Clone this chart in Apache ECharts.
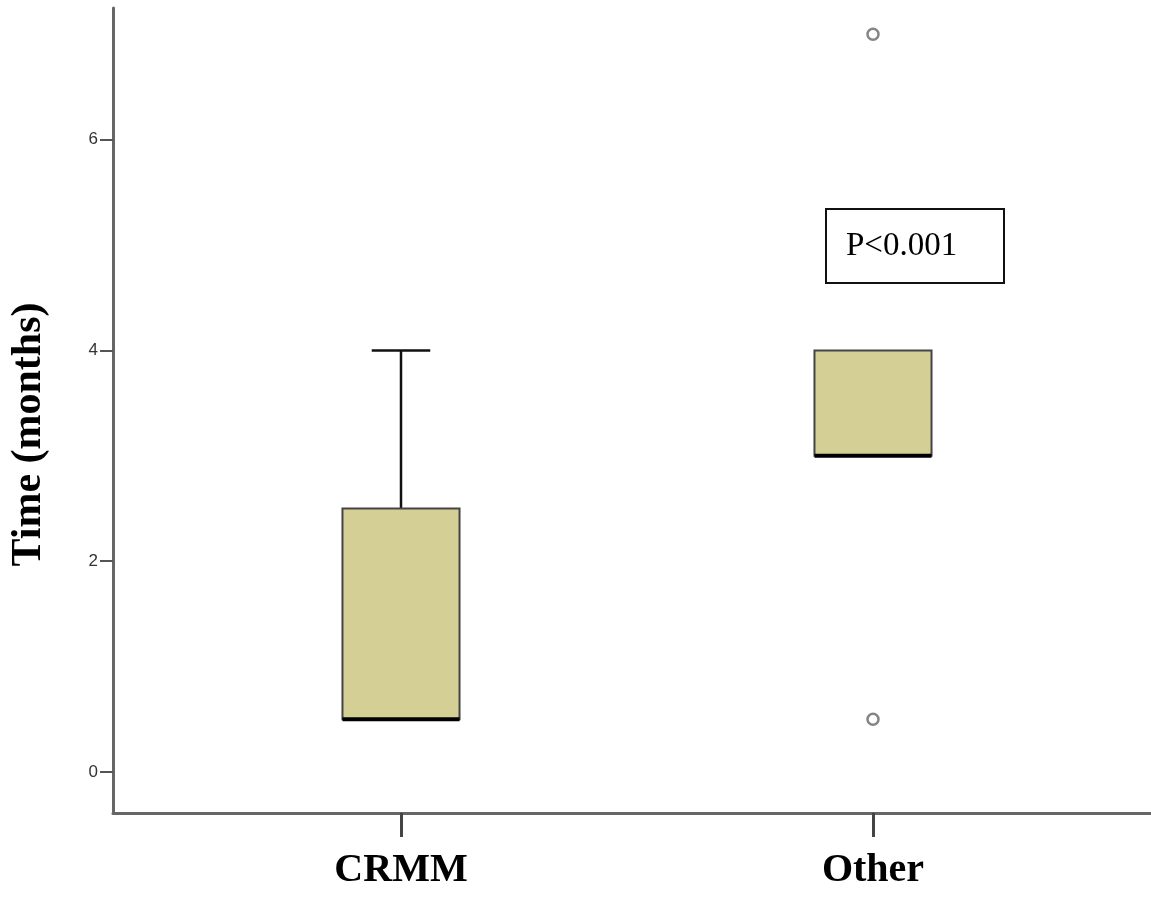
<!DOCTYPE html>
<html>
<head>
<meta charset="utf-8">
<script src="https://cdn.jsdelivr.net/npm/echarts@6/dist/echarts.min.js"></script>
<style>html,body{margin:0;padding:0;background:#fff;}#chart{width:1151px;height:921px;}</style>
</head>
<body>
<div id="chart"></div>
<script>
// ---- data ----
const categories = ['CRMM', 'Other'];
// [min, Q1, median, Q3, max] (whisker ends)
const boxStats = [
  [0.5, 0.5, 0.5, 2.5, 4],
  [3, 3, 3, 4, 4]
];
// outliers: [category index, value]
const outliers = [[1, 7], [1, 0.5]];
const yTickValues = [0, 2, 4, 6];
const pLabel = 'P<0.001';

const yMin = -0.39, yMax = 7.25;
const boxFill = '#d4cf94';

const chart = echarts.init(document.getElementById('chart'));
const boxData = boxStats.map((s, i) => [i].concat(s));

chart.setOption({
  animation: false,
  backgroundColor: '#fff',
  grid: [
    { left: 165, right: 42, top: 8, bottom: 108, outerBoundsMode: 'none', containLabel: false },
    { left: 113, right: 0, top: 8, bottom: 108, outerBoundsMode: 'none', containLabel: false }
  ],
  xAxis: [
    {
      type: 'category', gridIndex: 0, data: categories,
      axisLine: { show: false, onZero: false },
      axisTick: { show: true, alignWithLabel: true, length: 24, lineStyle: { color: '#444', width: 3 } },
      axisLabel: { margin: 38, fontFamily: 'Liberation Serif', fontWeight: 'bold', fontSize: 40, color: '#000' },
      splitLine: { show: false }
    },
    {
      type: 'category', gridIndex: 1, data: categories,
      axisLine: { show: true, onZero: false, lineStyle: { color: '#666', width: 3 } },
      axisTick: { show: false }, axisLabel: { show: false }, splitLine: { show: false }
    }
  ],
  yAxis: [
    {
      type: 'value', gridIndex: 0, min: yMin, max: yMax, show: false, splitLine: { show: false }
    },
    {
      type: 'value', gridIndex: 1, min: yMin, max: yMax,
      name: 'Time (months)', nameLocation: 'middle', nameGap: 63,
      nameTextStyle: { fontFamily: 'Liberation Serif', fontWeight: 'bold', fontSize: 42, color: '#000', padding: [0, 48, 0, 0] },
      axisLine: { show: true, onZero: false, lineStyle: { color: '#666', width: 3 } },
      axisTick: { show: true, length: 13, customValues: yTickValues, lineStyle: { color: '#555', width: 2 } },
      axisLabel: { show: true, margin: 15, customValues: yTickValues, fontFamily: 'Liberation Sans', fontSize: 17, color: '#333' },
      splitLine: { show: false }
    }
  ],
  series: [
    {
      type: 'custom', xAxisIndex: 0, yAxisIndex: 0,
      data: boxData,
      encode: { x: 0, y: [1, 2, 3, 4, 5] },
      renderItem: function (params, api) {
        const x = api.value(0);
        const vMin = api.value(1), vQ1 = api.value(2), vMed = api.value(3), vQ3 = api.value(4), vMax = api.value(5);
        const pMin = api.coord([x, vMin]);
        const pQ1 = api.coord([x, vQ1]);
        const pMed = api.coord([x, vMed]);
        const pQ3 = api.coord([x, vQ3]);
        const pMax = api.coord([x, vMax]);
        const band = api.size([1, 0])[0];
        const bw = band * 0.248;
        const cx = pQ1[0];
        const children = [];
        const lineStyle = { stroke: '#111', lineWidth: 2.5 };
        if (vMax > vQ3) {
          children.push({ type: 'line', shape: { x1: cx, y1: pQ3[1], x2: cx, y2: pMax[1] }, style: lineStyle });
          children.push({ type: 'line', shape: { x1: cx - bw / 4, y1: pMax[1], x2: cx + bw / 4, y2: pMax[1] }, style: lineStyle });
        }
        if (vMin < vQ1) {
          children.push({ type: 'line', shape: { x1: cx, y1: pQ1[1], x2: cx, y2: pMin[1] }, style: lineStyle });
          children.push({ type: 'line', shape: { x1: cx - bw / 4, y1: pMin[1], x2: cx + bw / 4, y2: pMin[1] }, style: lineStyle });
        }
        children.push({
          type: 'rect',
          shape: { x: cx - bw / 2, y: pQ3[1], width: bw, height: pQ1[1] - pQ3[1] },
          style: { fill: boxFill, stroke: '#444', lineWidth: 2 }
        });
        children.push({
          type: 'line', shape: { x1: cx - bw / 2, y1: pMed[1], x2: cx + bw / 2, y2: pMed[1] },
          style: { stroke: '#000', lineWidth: 4 }
        });
        return { type: 'group', children: children };
      },
      z: 3
    },
    {
      type: 'scatter', xAxisIndex: 0, yAxisIndex: 0,
      data: outliers,
      symbol: 'circle', symbolSize: 11,
      itemStyle: { color: '#fff', borderColor: '#666', borderWidth: 2.5 },
      z: 4
    }
  ],
  graphic: [
    {
      type: 'group', left: 825, top: 208,
      children: [
        { type: 'rect', shape: { x: 0, y: 0, width: 178, height: 74 }, style: { fill: '#fff', stroke: '#111', lineWidth: 2 } },
        { type: 'text', x: 20, y: 37, style: { text: pLabel, fontFamily: 'Liberation Serif', fontSize: 33, fill: '#000', verticalAlign: 'middle', align: 'left' } }
      ]
    }
  ]
});
</script>
</body>
</html>
